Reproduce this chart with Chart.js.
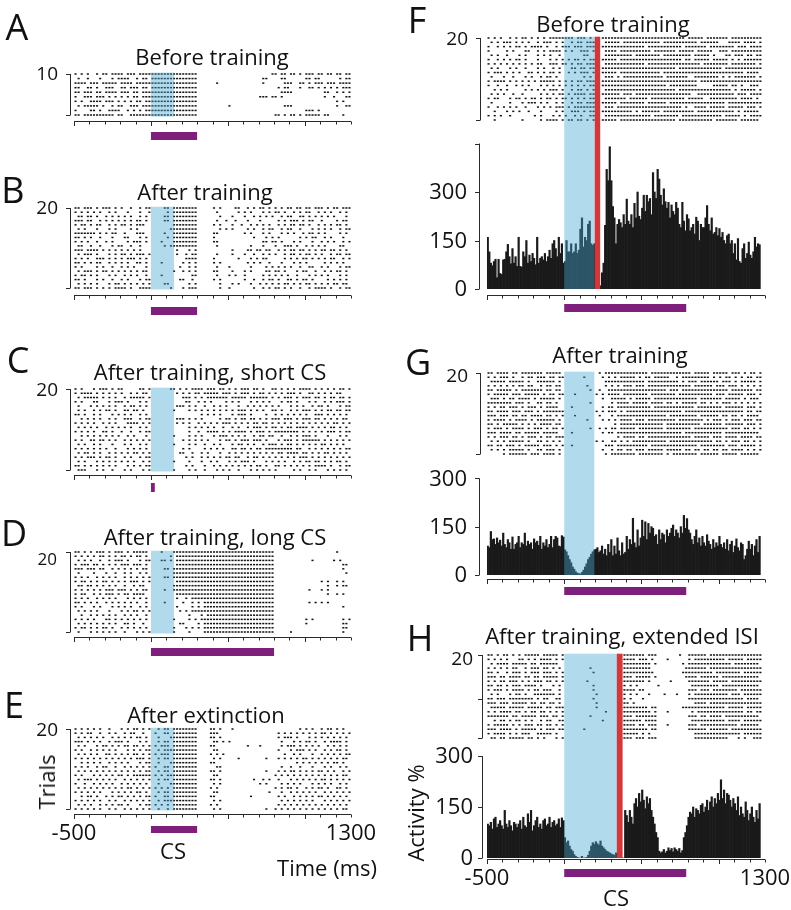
<!DOCTYPE html>
<html><head><meta charset="utf-8"><title>Purkinje cell raster figure</title>
<script src="https://cdn.jsdelivr.net/npm/chart.js@4.4.1/dist/chart.umd.min.js"></script>
<style>
html,body{margin:0;padding:0;background:#fff;}
body{position:relative;width:791px;height:910px;overflow:hidden;font-family:"Open Sans","Liberation Sans",sans-serif;color:#111;}
canvas{position:absolute;left:0;top:0;}
.lbl{position:absolute;white-space:nowrap;line-height:1;transform:translate(-50%,-50%);z-index:10;}
.rot{transform:translate(-50%,-50%) rotate(-90deg);}
</style></head><body>
<script>
// ---------- DATA ----------
const TIME_MIN=-500, TIME_MAX=1300, TICK_STEP=100, RASTER_BIN=20, HIST_BIN=10;
const TIME_TICK_LABELS=[-500,1300];
// CS (purple bar) and shaded windows, ms
const CS_A=[0,300], CS_B=[0,300], CS_C=[0,25], CS_D=[0,800], CS_E=[0,300], CS_RIGHT=[0,790];
const BLUE_LEFT=[0,150], BLUE_FG=[0,195], BLUE_H=[0,340];
const RED_F=[197,233], RED_H=[340,378];
const HIST_TICKS_F=[0,150,300,450], HIST_LABELS_F=['0','150','300',''];
const HIST_TICKS_GH=[0,150,300], HIST_LABELS_GH=['0','150','300'];

// Raster rows, top trial first. Each group of 5 marks = 100 ms (20 ms per mark), starting at -500 ms.
const RASTER_A=[
"#.#.# ..#.# #.### #.### .#### ##### ##### ##### ..... ..... ..... ..... ....# #.##. ##.#. ###.# #.##. ##.##",
".#..# ...#. ..#.# ###.. #.##. ##### ##### ##### ..... ..... ..... ..... .##.. ..##. ..... ##.## ..... .#.##",
"####. ###.# ####. ####. ##### ##### ##### ##### ..... .#... ..... ..... .#... ...## #..## .#.## #.### .####",
"##..# #.#.. ###.. ##.## #.##. ##### ##### ##### ..... ..... ..... ..... ..... .#.## ...#. .##.# .#.#. #.###",
"##.## #.##. ####. ###.# #.### ##### ##### ##### ..... ..... ..... ..... ..... ..### #.... ..... .##.. #.#.#",
"#..## #.### .#.#. #.#.# #.### ##### ##### ##### ..... ..... ..... ..... ###.# #.#.. ..... ..... .#..# ...##",
"#.#.. ####. ###.# .#.#. ##.## ##### ##### ##### ..... ..... ..... ..... ..... ..... ..... ..... ..... #.#..",
".#.## ###.# ..#.# #..## #.### ##### ##### ##### ..... ..... #.... ..... ..... ...## #.... ..... ..... #..##",
"#.... ##.#. .#### ..#.# .#.## ##### ##### ##### ..... ..... ..... ..... ..... ..... ..... ###.# ..... .....",
"##.## ##### ###.# #..## ##### ##### ##### ##### ..... ..... ..... ..... ..... ##.#. ##.#. ##### .##.. ..#.."
];
const RASTER_B=[
"##.## #.#.# ##.#. #..#. .#.## ....# #.### ##### ..... #.#.. ..##. .#.#. ##.#. #.#.# #.##. ##.## #.#.# #.###",
"#.#.# .#.#. .#.#. ..#.. .#..# ..... #.### ##### ..... .#... ...#. #.#.. .#.#. ##.#. .#.#. ##..# .#.#. .#.#.",
".##.# #.#.. #.#.# .#.#. .#.#. ....# #.### ##### ..... ..#.. .#... #..#. #.#.# ..#.# #..## .#.#. #.#.# ...#.",
"###.# #..#. #.#.# .#.#. ##.#. ....# #.### ##### ..... .#..# ..#.. .#... #.... .#.#. ###.# .##.. #.... #.##.",
"#.##. #.##. .#.#. ##.#. ###.. ..... ..### ##### ..... #.#.. .#..# ..#.# .#.#. .#.#. ##.## .#..# .#.#. ##.#.",
".#.#. ..#.. .#.#. ...#. #.... ..... .#### ##### ..... ..#.# .#... .#.#. .#.## ..#.# #..#. ..#.# .#.#. .#.##",
"##### ##.#. #.##. .#... ###.. ....# ..### ##### ..... ##... ..... #.#.. .#.#. ..#.# .#..# .##.# .#... .#.#.",
"##.#. #..#. ..#.. .##.. .#.#. ..... #.### ##### ..... #.... ..... ...#. ..#.# .#... ...#. #.##. .#.#. ..#..",
"#.#.# ..#.. #.#.. ..#.# ##.#. ...#. ..### ##### ..... ##... ..... ..... .##.# #.#.. .#.#. ..#.. #.#.# ..#.#",
".##.. #..#. ..#.# #..#. .#... ....# .#### ##### ..... .#... ..... ..#.. .#... #..## #.#.. #.#.# .#... .##..",
"###.# ###.# .#.#. #.#.# .#... ..... ...#. ..#.# ..... ..... .#... .##.# #.##. .#.#. ##.## .#.#. ##.## .#.#.",
".#.## #.#.. .#.#. ##.#. ###.# ..... ...#. .#.## ..... .#... .#... #..#. .#.#. #..#. ##.#. ##.#. #..#. ##.##",
"#.#.# ..### .#.#. #.### .#.#. ..... ..... .#### ..... #.... ...#. ..#.# .##.. ...#. #.#.# #.#.# .#.## ..#.#",
"##.#. #.##. .#.#. #.#.. ##.#. ...#. ..... #.#.# ..... #.#.. ..... .#.#. #..#. ..#.. .#.#. #.... .#.#. #.#..",
"#.#.. ..#.# ..#.. #.#.# ...#. ..... ....# ..#.# ..... .#... #.... ..#.. ..#.# .#.#. #..#. .##.. #.#.. .#.##",
".#.## #.#.# #.#.# .#.#. #.##. ..... ..#.. #.#.# ..... ##... .#... #.#.. ..##. ##.#. ..#.# #..#. .#.#. ##.#.",
"#.##. #.#.. .#.#. .#.#. #..#. ...#. ..... ...## ..... .#... #.#.. #.... .#.#. #.#.# ..#.. .#.#. #.#.. .#.#.",
"##.#. ..#.# ..#.. #.#.. .#.## ..... ....# #..#. ..... #.#.. ..... #..#. .#.## .#..# #.#.# #.#.. ..#.# .#.#.",
".#.#. #.#.. .#.## .#.#. #.#.# ....# #.... ..#.# ..... ..#.. .#.#. ..#.. #.#.# .#.## .#.#. ##.#. #.#.# #.##.",
"##.## #.#.# .#.## ##.#. .#### ..... .#... #.### ..... ..#.. #.... ...#. .#.#. ##.#. #..#. .#.## ##.#. .#.##"
];
const RASTER_C=[
"#.#.. .#.## #.#.# #.... .##.# ..... .##.# .#.## ##.## #.##. #.#.# ##.## .#..# #.#.# .#.## ##.#. #.#.# .##.#",
"#.### #.#.# .#.#. #..#. #.##. ..... ...#. #.#.# #.### ##.## #.#.# ##.#. ##.#. #.#.# ##.#. .##.# .#.#. ##...",
".#.## ###.# .#.#. .#.## ###.# ..... ..... ###.# .#.## ##### .#### #.### ###.# .#.## #.#.# ##.## .#.## .##.#",
"#.#.. .##.. .#.## #.#.. .#.#. ..... ..... .##.. #.#.# ....# .#.#. ..#.# .#.#. ..#.# #.#.. .#.#. .#.#. ###.#",
".#... #.#.# .#.#. .#.## .#.#. ..... ...## #.#.# ..#.. #.#.# ...#. .#.#. #.#.# .#... #.#.# ..#.# #.#.. .#.##",
".#.#. .#.#. ##.#. .##.# #.#.. ..... ..#.. ..#.# .#.#. #.#.# .#.## #.#.# .#..# #.#.. #.#.# ##.#. #.##. ##.##",
"##.#. .#.#. ..#.# .#.#. .#.#. ..... ..... ..... .#.#. #.#.. .#.## #.#.. ..#.. #.#.# .#.#. #..## #.#.# .#.#.",
"..#.# .#.#. .#.#. .###. .#.## ..... ...## #.#.# .#... ..#.# #.#.# #.##. #.#.# ##.## #.#.# ##.## .#.#. #.##.",
"#.#.# .#..# .#.#. ..### #.#.# ..... ...#. #.#.. #.#.# .#.## #.#.# .#.## .##.# .#.#. #.#.# .#.#. #.#.# #.#.#",
".#.#. #.#.. #.#.# .#.#. .#.#. ..... ..... ..#.# .#.#. #..#. .#.#. .#.## #.#.# #.#.# #.### #.#.# .#.## .#.#.",
"#.#.# .#..# #.#.. #..#. .#.## ..... ..... ..#.. #..## ##.#. #.### #.#.# ##.#. ##### ###.# .#.#. #.### .#.##",
"..#.# .#.#. #.#.# ..#.# ...#. ..... ..#.. ..#.# .#... #.### .#.#. #..#. ##.## ..#.. #.#.# ##.#. ..#.. .#.#.",
"#.#.. ##.## .#.#. .#.#. #.#.# ..... ..... #.#.# .#.#. ..#.# #.#.# ##.## #.#.. .#.## #.#.# ##### .#.#. #.#.#",
".#.#. .#.#. ..#.. .#.#. .#.#. ..... ..#.. ..#.# ..#.. #.#.. .#.## .#.#. .#.## #.#.# #.#.# .#.#. ##.#. #.#..",
"#.#.# .#.#. #..#. ..#.# .#.#. ..... ..... #.#.. ..#.# .#.#. .##.# #.#.# #.### ##### #.##. .#.#. #.#.# .#.##",
".#.## .#.#. .#.#. #.#.# #.#.# ..... ....# #..#. .#.#. ..#.. #.#.# .#.#. #.#.# .##.# ###.# #.#.# .##.# .#.#.",
"#.#.# ##.#. ##.#. .#.#. .#.## ..... ..... .#.#. .#.#. #.#.# #.##. .#.## .#.#. #.#.# .#.## #.#.# .#.#. #.#.#",
".#.#. ..#.# .#.#. #.#.# ..#.# ..... ..#.. ..#.. .#..# .#... #.#.# ##.#. ..#.# .#.#. .#.#. ##.## .#.#. ##.#.",
"##.#. #.#.# .#.#. ..#.# .#.## ..... ..... .#.#. ..#.. #.#.# .#.#. #.#.# #.#.. ##.#. #.#.# .#.## ##.#. .#.##",
".###. ..#.# ..#.. .#.#. ..#.# ..... ..#.. ..#.# ..#.. .#.#. #..#. ..#.# .#.#. #.... .#.#. .#.#. ..#.# .#.#."
];
const RASTER_D=[
"##.#. #.### .#.## #.#.# ####. ...#. ..### ##### ##### ##### ##### ##### ##### ..... ..... ..... ..... #....",
"#.#.# .#.## .#.#. ##.#. ##.#. ..... .#.## ##### ##### ##### ##### ##### ##### ..... ..... ..... ..... .....",
".#.#. #..#. .#.## #.#.. .#.## ...## .#.## ##### ##### ##### ##### ##### ##### ..... ..... ..#.. ....# .#...",
"#.### .##.# .#.#. ###.# ##.#. ..... ...## ##### ##### ##### ##### ##### ##### ..... ..... ..... ..... ..##.",
"###.# ##.## ..#.# .#.#. #.##. ....# #.### ##### ##### ##### ##### ##### ##### ..... ..... ..... ..... ..#..",
".#... .#... #..#. .#.#. .#.#. ..... ..### ##### ##### ##### ##### ##### ##### ..... ..... ..... ..... ...#.",
"#.#.# ..#.# .#.#. .#.#. #.#.# ....# #.### ##### ##### ##### ##### ##### ##### ..... ..... ..... ..... .....",
"#.##. #.#.# #.#.# .#.## #.#.# ..... ...## ##### ##### ##### ##### ##### ##### ..... ..... ..... #.#.. #.#..",
".##.# #.#.# .#.#. .#..# .##.. ..... ..### ##### ##### ##### ##### ##### ##### ..... ..... ..... ..#.. #.##.",
"#.#.# .#.#. ###.# ##.#. #.##. ....# ..### ##### ##### ##### ##### ##### ##### ..... ..... .#... #.#.. .....",
"#.##. .#.#. ###.# .##.# ###.. ..... ...## ##### ##### ##### ##### ##### ##### ..... ..... ..... ..#.. #.#..",
"#.#.# ..#.# .#.#. ..#.# .#.#. ..... ...#. .#.## ##### ##### ##### ##### ##### ..... ..... ..... ..... .....",
"##.#. #.#.. #.#.# .#.#. #..#. ....# ..... #..#. #.### ##### ##### ##### ##### ..... ..... .#.#. #.#.. .....",
"#.#.. .#.#. ..#.# .#.#. .#.#. ..... ...#. ...#. #.### ##### ##### ##### ##### ..... ..... ..... ..... ..#..",
".#.#. #.#.. .#... #.#.# #.#.# ..... ....# .#.## ##### ##### ##### ##### ##### ..... ..... ..... ..... .....",
"..#.. #.#.# .#.#. .#.#. #..#. ..... ..... ..#.. .#.## ##### ##### ##### ##### ..... ..... ..... ..... .....",
"#.#.# .#... ##.#. #.#.# .#.#. ..... ..#.. ..#.# .#### ##### ##### ##### ##### ..... ..... #.#.. ..... ..#.#",
".#.#. #.#.# .#.#. .##.# ..#.. ..... ....# #.... #.### ##### ##### ##### ##### ..... ..... #.... ..... ..##.",
"#.##. #.#.# #.#.. #.#.# .#.#. ..... ..#.. .#.#. #.### ##### ##### ##### ##### ..... ..... ..... ..... ..##.",
".#... #.#.# .#.#. .#... #.#.# ..... ..#.. ..#.. ..### ##### ##### ##### ##### ..... #.... ..... ..... ..#.."
];
const RASTER_E=[
"#.#.# .#.#. .#... #.#.# #.#.# ..#.# #.### ##### ....# #.#.. .#... ..... ..... ..... ...#. #.#.. #.##. #.#..",
"#.#.# #..#. .#.#. .#.## ..#.. .#..# #.### ##### ....# ##... ..... ..... ..... .#.#. #.#.# .#.#. ##.#. #.#.#",
".#.#. #.#.# ..#.# .#.#. ##.#. ..#.. .#### ##### ....# #.#.. ..... ..... ..... .#.## #.#.. .#.#. #.#.# .#.#.",
"###.# .#.#. .#.## #.#.. .#.#. ..#.# #.### ##### ..... ##.#. #.... ..... ..... ..#.. .#.#. ##.#. .#.## ##.#.",
".#.#. ..#.# #.#.# .##.# #.#.# .#.## #.### ##### ....# #.... ..... .#... #.... ..#.# ##.#. #.#.# ..#.# .#.#.",
"#.#.. #.#.# .#.#. ..#.# .#.## ..#.# ##### ##### ..... ##... ..... ..... ..... .#... #.### .#.#. .#.#. ##.#.",
".#.#. #.#.. ##.#. #.#.# #.#.# .#.## #.### ##### ....# .#.#. ..... ..... ..... ...#. .#.#. ..#.. #.#.# .#.##",
"#.#.# .#.#. #.#.# .#.#. ###.# ..#.# #.### ##### ..... #.#.. ...#. ..... ..#.. .#.#. #.#.# #.#.# .#.#. #.##.",
"..#.# .#.#. .#.#. #.#.. .#.## ..#.. .#### ##### ....# #.... ..... ..... ..... ..... ..#.# .#.#. #.#.# #.#..",
"#.#.# ..#.# #..#. .#.#. #.#.# .#..# #.### ##### ..... .##.. ..... ..... ..... ..#.. #..#. ..#.. .#.#. .#.#.",
".#.#. #.#.# .#.#. #.#.# .#.## ..#.# #.### ##### ....# #.#.. ..... ..... ..#.. .#.#. ##.#. #.#.# #.#.# ..#.#",
"#.#.. .#.#. #.#.# #.#.# ##### .#.#. ##### ##### ..... ##... ..... ..... ..... #.#.# .#.#. #.#.# .#.#. #.##.",
".#.## #.#.# .#.#. .#.#. #.#.# ..#.# #.### ##### ....# #.#.. ..... ...#. .#.#. .#... #.#.# .#.#. ##.#. #.#.#",
"#..#. .#.#. #.#.. #.#.# .#.#. ..#.. .#### ##### ..... #.#.. ..... ..... #.#.. ..#.# .#.#. ..#.# .#.#. .#.#.",
".#.#. #.#.# .#.#. #.##. #.#.# .#.#. #.### ##### ....# .#... ..... ..... ..... #.#.# #.#.. #.#.# #.#.. ##.#.",
"#.#.# .#.#. ..#.# .#.#. ##.#. ..#.# #.### ##### ..... ##... ..... ..... ...#. ..#.. #.#.# .#.#. .#.#. #.#.#",
"..#.# #.#.. #.#.# #.#.# .#.## .#..# #.### ##### ....# #.... ..... ..#.. ..... .#.#. .#.#. #.#.# #.#.# .#.#.",
"#.#.# .#.#. .#.#. .#.#. #.#.# ..#.# ##### ##### ..... #.#.. ..... ..... ..... ..#.# .#.#. #.#.. .#.#. #.#.#",
".#.#. #..#. #.#.# #.#.. .#.## .#.#. #.### ##### ....# .#... ..... ..... ..... .#.#. #.#.# .#.#. #.#.# .#.#.",
"#.#.# .#.#. .#.#. .#.#. #.#.# ..#.. #.### ##### ..... #.#.. ..... ..... ..#.. #.#.# .#.#. #.#.# .#.#. #.##."
];
const RASTER_F=[
"#.#.# ..#.# .##.# .#.#. ##### ###.# ##.#. ..### ##### ##### ##### ##### ####. ##### .#### ###.# ##### ####.",
".#.#. ###.# .#.#. .#.## #.#.# ..#.# #.### ...## ###.# ##### ##### #.### ##### ###.# ##### ...## ##.## ##.#.",
"#..#. #.#.# #.#.# ###.# ..#.# ##.## #.### ..### ##### ##### #.### ##### ###.# ##### #.### ##### .###. ####.",
"#.... .#.#. ..##. .#.#. ####. #.#.. ###.# ...## ##.## ##### ###.# ##### #.### ##.## ###.. ###.# ##### ####.",
".#.#. .#... #.#.. .#.#. #..#. ..... .##.. ...## ##### ##.## ##### #.### ##### #.### ##.#. ..##. ###.# #.##.",
"#..#. #.#.# #.#.. .#... #.#.# .#.## .#.## ..### ##.## ##### ##### ##### ###.# #.### ##.## ###.# .#.## ####.",
"#.#.# .#.#. #.#.# .##.. ###.# #.#.# #.### ...## ##### ##### #.### ##### ##### ####. ##### ###.# ##### ##.#.",
".#.#. ..#.# ..#.. .#.#. .#.#. ..##. ##.## ..### ##### ##### ##### ##### #.### ##### ##### #.### ##### ####.",
"#.### .#.#. #..## .#.#. ##.#. .#.#. ###.# ..### ##.## ##### ##### #.### ##### ##### ##### ##### ###.# ###..",
".#... #..#. ..#.# ..#.# #.#.. ..... .#.#. ...## #.#.# ##### ##### ##.## ##### ..### ##### .#.#. ##### ##.#.",
"#.### #.#.# .#.#. #.### ##.#. #.#.# #.### ..### ##### ##### ##### ##### ##### ###.# ##### ##### ##### ####.",
"#..#. .#..# .#.#. ..#.# .#.#. #.#.# .#.## ..### ##### ##### ##### ###.# ##### ###.. ...## ###.# #.#.. ###..",
"..#.# .#... ..#.# .#.#. ###.# ..#.# #.#.# ...## ##### ##### ##### ##### #.### ##### ##### ####. #.### ##.#.",
".#.#. #..#. .#... ..#.# .#.## .#.## ##.## ..### ###.# ##.## ##### ##### ##### #..## ##### ##### .###. ####.",
"#.##. ..#.# #.#.# #.#.# #.#.# #.#.# .#.## ...## ##### .#### ##.## ##### ####. ##### ..### ##### #.### #.#..",
".#... ..#.. .#.## #.#.# ..#.# ..#.# #.### ..### ##.## ##### #.### ###.# ##### ##### ##### ##.## ##### ####.",
"#..#. #.#.# ..#.. .#.#. #.### .#.## ##### ...## #.### ##### ##### ##### ###.# ..### #.### ##.## ###.# ##.#.",
"..#.. .#.#. #..#. ..#.. ..#.# ..### .#.## ..### ##### ##.#. ##### #.### ##### ##.## ##### ##### .#.## ###..",
"#.#.# ..#.. ..... #.#.. .#.#. #..#. #..## ...## ##### ##### ###.# ##### ##.## ##### ##### #.### ##.#. ####.",
"..#.. ..... .#... ..#.# ###.# .##.# #.#.# ..### ##.## ##### ##### ##### #.### ##### ###.# ##### #.### ###.."
];
const RASTER_G=[
"##.## ##.## .#### ###.# ####. ..... ..... .#.## ##### ##### ##.## ##### ##### #.### ##.## ###.# ##.#. ##.#.",
"#.#.# ##.#. .#.## .###. ##.## ..... .#... ..#.# .#.## ###.# .##.# ####. .#.## ##### ##.#. #.##. #.#.# #.##.",
".#### #.### ##.#. .#### ##.#. ..... ..... ...## ##### ##### #.### ##### ##.#. ###.# ##### .###. #.### ##.#.",
"#.#.# .#.#. ##.## ..#.# #.##. ..... ..#.. ...#. #.#.# ##.## #.### ##### ##### #.### ###.# ##.## #.#.# .#.#.",
"##.## ###.# .#### ###.# #.##. ..... ...#. .#..# ##### ##### ##### ###.# ##.## ##### ##### ###.# ##### #.##.",
"#.### ##.## #.### ##.#. ##.## ...#. ..... #.#.# ###.# ##### ##.## ##### #.### ##### ###.# ##.## ###.# ##.#.",
".###. #.##. ####. #.### ##.#. ..... ..... ..#.. ##### .#.## ###.# ##### ##### ###.# ##### #.### ##.#. ###..",
"##### ###.# ##.#. .##.# #.#.. ..... ...#. ..... #.### #.### ##.## ##.## .#.## ###.# #.#.# .###. #.#.# .#.#.",
"#.#.# #.### .#.## #.#.# ###.. ..#.. ..... ..#.# #.### ##### ###.# ##### ##### ##.## ##### #.### ###.# ##.#.",
"##.## ##.## #.### .#.## ##### ..... ..... #.#.# ##.#. ##### ##### ##### ###.# ##### ##### ##### ###.# #.##.",
"###.# ##.## .##.# ###.# #.#.# ...#. ..... .#... #.### ##### ##### ###.# ##### ###.# ##### .##.# #.#.# ###..",
"#.### #.#.# ###.# .#### ##.#. ..... ..#.. ..#.# .#.## ##.## #.### ##### #.### ##### .#.## #.#.# ##.## #.##.",
"##.#. ##### .#.#. #.### #.##. ..... ..... ..... .#.## ##### ##### ##.## ##### ####. ##### #.### ###.# ##.#.",
"#.### .#.## ##.#. ###.# .##.# ..... ...#. .#.#. ##.## ###.# ##### ##.## ##### #.### ##### ###.# ##.## .#.#.",
"###.# ###.# #.### ##.## ###.. ..#.. ..... ..#.# #.### ##### ##### ##### ###.# ##### ##### #.### ##### ###..",
"#.#.# ##.## .#.## #.#.# #.### ..... ..... ..... ..#.# ###.# #.### ##### ##### #.### ##.## #.### #.### #.##.",
".#.#. #.### ##.#. .##.# .#.#. ..... ..... #.#.. ##.#. #.### ##### ###.# ##### ##### ###.# #.#.# ##.## .#.#.",
"##.## .###. #.### ##.## #.#.# ..#.. ..... ...## #.### ##### ##.## ##### ##### ###.# ##### ##.## #.### ##.#.",
".#.#. #.### ##.#. .##.# ##.#. ..... ..... ..#.. #.##. ##.## #.### ##.## ###.# #.##. ##.## .##.# ###.# .#.#.",
"..... #.### ###.# ##.## ##.#. ..... ..... ...#. ##### ###.# ##### ##.#. ##### ###.# ##### .#### #.### ###.."
];
const RASTER_H=[
"##.#. ##.#. #.### ##.## ###.# ..... ..... ..... ....# ##### #.### ..... ..#.. ##### #.### ##### ##### ####.",
"#.#.# .#... ##.#. #.### #.#.# ..... ..... ..... ....# ###.# ##.#. ...#. ..... #.### ##### ##.## ###.# ####.",
".#.## ##.## ###.# #.### ###.. ..... ..... ..... ....# ##### ###.# ..... ...#. ##### ##### ####. ##### ###..",
"#.#.# .#.## ..#.# ##.## .#.#. ..... ...#. ..... ....# ##### ###.. ..... ....# ##### #.### ##### ##### ####.",
"##.#. .#.## #.#.# ##.## #.#.# ..... ....# ..... ....# ##### ####. ..... ...## ##### ###.# ##### ##.## ####.",
"###.# #.### #.##. ##.## ###.# ..... ..... ..... ....# ##.## ###.# ..... ....# ###.# ##### .#### ##### ###..",
"#.#.# #.### .#.#. ###.# #.#.# ..... ..#.. ..... ....# ##### #.#.. ....# ..... ##### ##.## ###.# ##### ####.",
"##.## .#.## #.### #.#.. .#.#. ..... ....# ..... ....# .#.#. ..... #.... ..... .#### ##### .#### ##### ###..",
"#.### .#.## ##.#. ##.## #..#. ..... ....# ..... ....# ###.# #.... ..... ..... ###.# ##.## ##### #.### ####.",
".#.#. ..#.# #.#.. ##### ##.#. ..... ..... #.... ....# .#.#. ..#.. ..#.. .#... #.### ##### ###.# ##.## ####.",
"##.## #.### ##### .#.## ..##. ..... ....# ..... ....# .#... #.... ..... ..... ##### ##### ##### ###.# ###..",
"###.# ##.## ###.# #.##. ##.#. ..... ..... #.... ....# #.#.. ..... ..... ..... ..### #.### ##### ##### ####.",
".#### #.### ##.## ###.# #.### ..... ..... #.... ....# ##### ##.## ..... ...## ##### ##### ##.## ###.# ####.",
"#.#.# ###.# #.#.# #.##. #.#.# ..... ..... ...#. ....# ##### ###.# ...#. ..... .#.## ##### ##### ###.# #.##.",
"##### ##.## .#### #.### .##.# ..... ...#. ..... ....# ##.## ##### ..... ..... ###.# #.### #.### ##### ###..",
"..#.# #.#.# #.#.# ..#.# #..## ..... ..... ..#.. ....# ##### .#### ..... ..... .#### ##### ##.## ##.## ####.",
"#.### ##.#. #.### .##.# #.#.# ..... ..... ..... ....# ###.# #.### ...#. ..... ###.# ##### ##### #.### ###..",
"###.# ###.# .#### #.#.# ##.## ..... .#... ..... ....# ##### ##.## ..... ..... ##### #.### ###.# ##### ####.",
"#.### #.#.# .###. .#### #.#.. ..... ..... ..... ....# ####. #.#.. ..... ..... ..### ##### ##### ##.## ####.",
".##.# #.### ##.## .#.#. ..#.# ..... ..... ..... ....# ##.## #.### ..... ..... ..### ##### ###.. .#.#. .###."
];

// Activity histograms (%), 10 ms bins from -500 ms
const HIST_F=[
160,115,80,72,85,92,35,92,48,45, 90,92,115,138,100,78,125,80,100,70,
160,70,68,115,100,150,80,105,85,110, 95,75,160,80,95,100,90,110,85,100,
120,95,140,150,125,100,160,110,140,80, 85,150,115,115,140,110,115,140,110,120,
185,220,130,160,150,200,210,140,135,140, 140,0,0,10,50,80,197,370,335,440,
335,255,220,140,200,215,205,190,230,200, 278,210,200,230,190,265,220,300,225,215,
250,290,240,290,270,280,230,360,300,280, 370,340,290,260,310,270,250,268,220,260,
240,230,268,250,200,190,268,210,180,230, 217,180,190,200,170,222,210,150,200,190,
190,220,258,200,180,220,170,175,190,165, 187,160,175,150,140,165,170,140,150,110,
140,90,156,85,80,125,140,95,110,145, 105,95,115,160,130,140,137
];
const HIST_G=[
90,85,135,110,112,95,115,100,108,90, 130,95,85,110,100,80,118,80,95,100,
120,85,100,95,130,90,105,95,100,80, 112,100,105,92,120,80,100,90,110,85,
95,120,85,110,120,115,90,88,122,118, 78,72,60,48,38,25,18,10,6,4,
3,8,15,25,35,48,55,65,72,78, 80,85,70,75,90,65,80,60,95,70,
110,60,90,65,115,75,60,100,65,70, 120,80,110,95,176,100,85,140,90,115,
170,120,165,110,160,130,150,145,120,125, 95,140,110,130,125,100,140,120,130,145,
155,120,140,130,115,150,130,185,145,175, 140,130,110,95,120,140,100,115,90,120,
100,90,125,105,95,80,110,85,100,90, 120,95,85,100,80,110,75,95,105,70,
90,112,85,75,100,95,48,60,80,105, 80,95,60,90,110,70,120
];
const HIST_H=[
100,95,105,85,115,120,90,100,110,95, 85,140,100,90,110,95,80,105,100,90,
100,110,85,120,95,90,130,105,140,80, 95,110,120,90,100,85,110,115,95,100,
120,90,105,110,95,100,115,90,118,110, 60,45,50,35,25,20,10,5,2,0,
0,5,0,0,2,8,20,35,45,40, 48,42,38,50,35,30,25,20,18,15,
12,10,8,15,10,0,0,0,0,140, 125,105,140,120,100,160,175,150,190,165,
200,170,145,180,160,175,140,120,100,75, 60,20,15,18,25,15,20,30,22,28,
18,30,25,20,28,15,22,60,75,95, 120,135,130,150,120,145,140,130,155,160,
135,150,170,140,165,180,150,175,160,190, 170,230,175,200,160,190,185,170,150,175,
160,140,180,125,150,130,120,165,140,110, 130,150,120,105,140,115,160
];

// ---------- LAYOUT ----------
const W=791, HGT=910;
const FONT='"Open Sans","Liberation Sans",sans-serif';
const C_BLUE='rgba(70,170,210,0.42)', C_RED='#d3363b', C_PURPLE='#7d1f7b', C_AXIS='#2a2a2a', C_INK='#111';

const PANELS=[
 {id:'A',raster:RASTER_A,x0:74,x1:351,top:74,bot:115,axisY:121,barY:[132,140],cs:CS_A,blue:BLUE_LEFT,bracketX:70,yLabel:'10',labelR:58,labelDy:1,labelSize:19},
 {id:'B',raster:RASTER_B,x0:74,x1:351,top:208,bot:288,axisY:295,barY:[307,315],cs:CS_B,blue:BLUE_LEFT,bracketX:70,yLabel:'20',labelR:58,labelDy:1,labelSize:19},
 {id:'C',raster:RASTER_C,x0:74,x1:351,top:389,bot:470,axisY:475,barY:[483,492],cs:CS_C,blue:BLUE_LEFT,bracketX:70,yLabel:'20',labelR:58,labelDy:2,labelSize:19},
 {id:'D',raster:RASTER_D,x0:74,x1:351,top:552,bot:632,axisY:637,barY:[648,656],cs:CS_D,blue:BLUE_LEFT,bracketX:70,yLabel:'20',labelR:57,labelDy:8,labelSize:17},
 {id:'E',raster:RASTER_E,x0:74,x1:351,top:729,bot:809,axisY:814,barY:[826,833],cs:CS_E,blue:BLUE_LEFT,bracketX:70,yLabel:'20',labelR:58,labelDy:2,labelSize:19,xLabelY:834},
 {id:'F',raster:RASTER_F,hist:HIST_F,x0:487,x1:765,top:38,bot:120,hZero:289,hPx:0.3233,hTicks:HIST_TICKS_F,hLabels:HIST_LABELS_F,hAxisX:479,hLabelR:467,axisY:295,barY:[304,312],cs:CS_RIGHT,blue:BLUE_FG,red:RED_F,bracketX:480,yLabel:'20',labelR:468,labelDy:2,labelSize:19},
 {id:'G',raster:RASTER_G,hist:HIST_G,x0:487,x1:765,top:373,bot:454,hZero:575,hPx:0.3223,hTicks:HIST_TICKS_GH,hLabels:HIST_LABELS_GH,hAxisX:479,hLabelR:467,axisY:579,barY:[587,595],cs:CS_RIGHT,blue:BLUE_FG,bracketX:480,yLabel:'20',labelR:468,labelDy:4,labelSize:19},
 {id:'H',raster:RASTER_H,hist:HIST_H,x0:487,x1:765,top:655,bot:738,hZero:858,hPx:0.34,hTicks:HIST_TICKS_GH,hLabels:HIST_LABELS_GH,hAxisX:482,hLabelR:473,axisY:859,barY:[869,877],cs:CS_RIGHT,blue:BLUE_H,red:RED_H,bracketX:482,yLabel:'20',labelR:473,labelDy:5,labelSize:19,midTick:10,xLabelY:879}
];

const TEXTS=[
 ['A',17,27,36],['B',13,190,36],['C',18,360,36],['D',14,533,36],['E',14,705,36],
 ['F',417,20,36],['G',418,362,36],['H',420,638,36],
 ['Before training',212,56,22],['After training',205,191,22],['After training, short CS',210,371,22],
 ['After training, long CS',215,536,22],['After extinction',206,714,22],
 ['Before training',613,23,22],['After training',620,354,22],['After training, extended ISI',622,635,22],
 ['CS',173,850,22],['Time (ms)',327,867,22],['CS',616,897,22]
];
const ROT_TEXTS=[['Trials',46,782,22],['Activity %',415,813,22]];

// ---------- HELPERS ----------
function rasterPoints(rows){
  const n=rows.length, pts=[];
  rows.forEach((row,ri)=>{
    const trial=n-ri;
    row.trim().split(/\s+/).forEach((g,k)=>{
      for(let j=0;j<g.length;j++) if(g[j]==='#') pts.push({x:TIME_MIN+100*k+RASTER_BIN*j+RASTER_BIN/2,y:trial});
    });
  });
  return pts;
}
function histPoints(vals){return vals.map((v,i)=>({x:TIME_MIN+HIST_BIN*i+HIST_BIN/2,y:v}));}

function panelPlugin(p){
  const N=p.raster.length;
  return {
    id:'panel'+p.id,
    afterDatasetsDraw(chart){
      const ctx=chart.ctx, xs=chart.scales.x, yR=chart.scales.yR;
      const yT=yR.getPixelForValue(N+0.3);
      const yB=p.hist? chart.scales.yH.getPixelForValue(0) : yR.getPixelForValue(1-0.35);
      ctx.save();
      const b0=xs.getPixelForValue(p.blue[0]), b1=xs.getPixelForValue(p.blue[1]);
      ctx.fillStyle=C_BLUE; ctx.fillRect(b0,yT,b1-b0,yB-yT);
      if(p.red){
        const r0=xs.getPixelForValue(p.red[0]), r1=xs.getPixelForValue(p.red[1]);
        ctx.fillStyle=C_RED; ctx.fillRect(r0,yT,r1-r0,yB-yT);
      }
      ctx.restore();
    },
    afterDraw(chart){
      const ctx=chart.ctx, xs=chart.scales.x, yR=chart.scales.yR;
      ctx.save();
      ctx.strokeStyle=C_AXIS; ctx.lineWidth=1;
      const ay=p.axisY+0.5;
      ctx.beginPath();
      ctx.moveTo(xs.getPixelForValue(TIME_MIN),ay); ctx.lineTo(xs.getPixelForValue(TIME_MAX),ay);
      for(let t=TIME_MIN;t<=TIME_MAX;t+=TICK_STEP){
        const x=Math.round(xs.getPixelForValue(t))+0.5;
        const L=(t%500===0)?4.5:3;
        ctx.moveTo(x,ay); ctx.lineTo(x,ay+L);
      }
      ctx.stroke();
      const c0=xs.getPixelForValue(p.cs[0]), c1=xs.getPixelForValue(p.cs[1]);
      ctx.fillStyle=C_PURPLE; ctx.fillRect(c0,p.barY[0],c1-c0,p.barY[1]-p.barY[0]);
      const bx=p.bracketX+0.5;
      const yTop=yR.getPixelForValue(N), yBot=yR.getPixelForValue(1);
      ctx.beginPath();
      ctx.moveTo(bx,yTop); ctx.lineTo(bx,yBot);
      const ticks=[N,1]; if(p.midTick) ticks.push(p.midTick);
      ticks.forEach(v=>{const y=Math.round(yR.getPixelForValue(v))+0.5; ctx.moveTo(bx-4.5,y); ctx.lineTo(bx,y);});
      ctx.stroke();
      ctx.fillStyle=C_INK; ctx.textAlign='right'; ctx.textBaseline='middle';
      ctx.font=p.labelSize+'px '+FONT;
      ctx.fillText(p.yLabel,p.labelR,yTop+p.labelDy);
      if(p.hist){
        const yH=chart.scales.yH, hx=p.hAxisX+0.5;
        const hTop=yH.getPixelForValue(p.hTicks[p.hTicks.length-1]), hBot=yH.getPixelForValue(0);
        ctx.beginPath();
        ctx.moveTo(hx,hTop); ctx.lineTo(hx,hBot);
        p.hTicks.forEach(v=>{const y=Math.round(yH.getPixelForValue(v))+0.5; ctx.moveTo(hx-4.5,y); ctx.lineTo(hx,y);});
        ctx.stroke();
        ctx.font='22px '+FONT;
        p.hTicks.forEach((v,i)=>{ if(p.hLabels[i]) ctx.fillText(p.hLabels[i],p.hLabelR,yH.getPixelForValue(v)+1); });
      }
      if(p.xLabelY){
        ctx.font='22px '+FONT; ctx.textAlign='center';
        TIME_TICK_LABELS.forEach(v=>ctx.fillText(String(v),xs.getPixelForValue(v),p.xLabelY));
      }
      ctx.restore();
    }
  };
}

function makeChart(p){
  const cv=document.createElement('canvas');
  cv.width=W; cv.height=HGT; cv.style.width=W+'px'; cv.style.height=HGT+'px';
  document.body.appendChild(cv);
  const N=p.raster.length;
  const areaTop=p.top-3;
  const areaBot=p.hist? p.hZero : p.bot+3;
  const s=(p.bot-p.top)/(N-1);
  const scales={
    x:{type:'linear',display:false,offset:false,min:TIME_MIN,max:TIME_MAX,grid:{offset:false}},
    yR:{type:'linear',display:false,offset:false,max:N+3/s,min:1-(areaBot-p.bot)/s}
  };
  const datasets=[{
    type:'scatter',label:'spikes '+p.id,data:rasterPoints(p.raster),xAxisID:'x',yAxisID:'yR',
    pointStyle:'line',pointRadius:1.05,pointHoverRadius:1.05,borderWidth:1.5,borderColor:C_INK,backgroundColor:C_INK,
    showLine:false,clip:false,order:1
  }];
  if(p.hist){
    scales.yH={type:'linear',display:false,offset:false,min:0,max:(areaBot-areaTop)/p.hPx};
    datasets.push({
      type:'bar',label:'activity '+p.id,data:histPoints(p.hist),xAxisID:'x',yAxisID:'yH',
      backgroundColor:'#1a1a1a',borderWidth:0,barPercentage:1,categoryPercentage:1,order:2
    });
  }
  new Chart(cv,{
    type:'scatter',
    data:{datasets},
    options:{
      responsive:false,animation:false,devicePixelRatio:1,events:[],
      layout:{padding:{left:p.x0,right:W-p.x1,top:areaTop,bottom:HGT-areaBot}},
      plugins:{legend:{display:false},tooltip:{enabled:false},title:{display:false}},
      scales
    },
    plugins:[panelPlugin(p)]
  });
}

PANELS.forEach(makeChart);

TEXTS.forEach(([t,x,y,s])=>{
  const d=document.createElement('div'); d.className='lbl'; d.textContent=t;
  d.style.left=x+'px'; d.style.top=y+'px'; d.style.fontSize=s+'px'; document.body.appendChild(d);
});
ROT_TEXTS.forEach(([t,x,y,s])=>{
  const d=document.createElement('div'); d.className='lbl rot'; d.textContent=t;
  d.style.left=x+'px'; d.style.top=y+'px'; d.style.fontSize=s+'px'; document.body.appendChild(d);
});
</script>
</body></html>
